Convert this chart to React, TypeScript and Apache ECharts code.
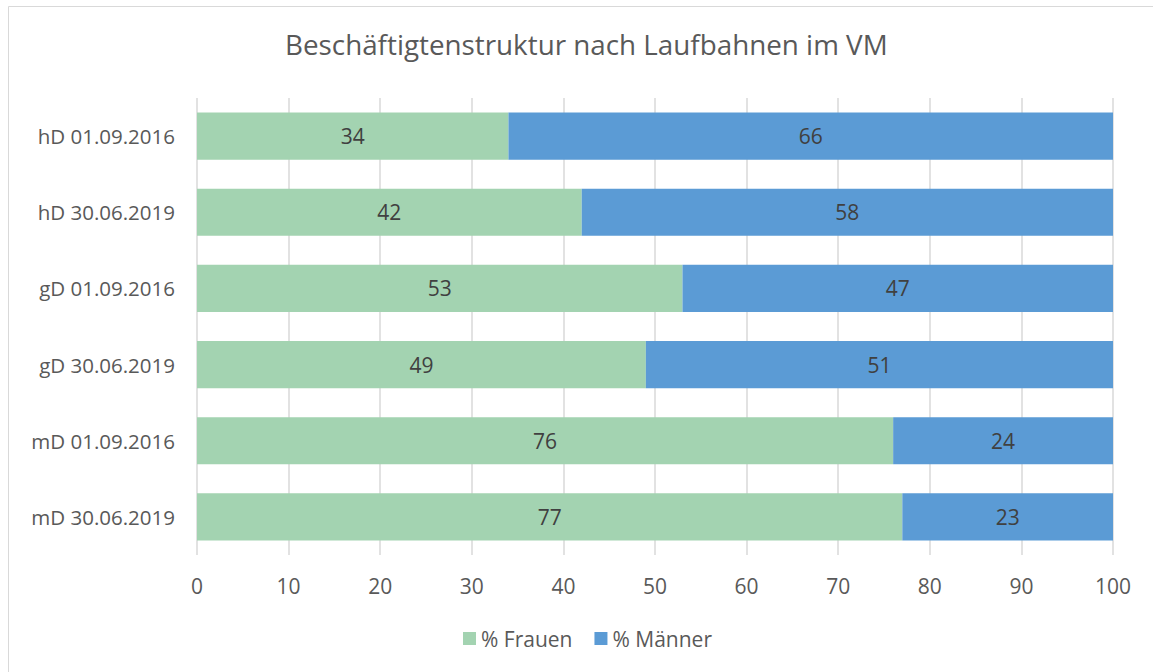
import React, { useEffect, useRef } from "react";
import * as echarts from "echarts";

const categories = [
  "hD 01.09.2016",
  "hD 30.06.2019",
  "gD 01.09.2016",
  "gD 30.06.2019",
  "mD 01.09.2016",
  "mD 30.06.2019",
];
const frauen = [34, 42, 53, 49, 76, 77];
const maenner = [66, 58, 47, 51, 24, 23];
const seriesNames = ["% Frauen", "% Männer"];
const xTicks = { min: 0, max: 100, interval: 10 };

const FONT = "'Open Sans', 'Noto Sans', sans-serif";

export default function App() {
  const ref = useRef<HTMLDivElement>(null);
  useEffect(() => {
    if (!ref.current) return;
    const chart = echarts.init(ref.current, null, { renderer: "svg" });
    chart.setOption({
      animation: false,
      backgroundColor: "#ffffff",
      textStyle: { fontFamily: FONT },
      title: {
        text: "Beschäftigtenstruktur nach Laufbahnen im VM",
        left: 280,
        top: 25,
        textStyle: { fontSize: 27.8, fontWeight: "normal", color: "#595959", fontFamily: FONT },
      },
      legend: {
        bottom: 18,
        left: 458,
        itemWidth: 13,
        itemHeight: 13,
        itemGap: 22,
        icon: "rect",
        textStyle: { fontSize: 21, color: "#595959", fontFamily: FONT },
        data: seriesNames,
      },
      grid: { left: 197, right: 40, top: 98, bottom: 117, containLabel: false },
      xAxis: {
        type: "value",
        min: xTicks.min,
        max: xTicks.max,
        interval: xTicks.interval,
        axisLine: { show: false },
        axisTick: { show: false },
        splitLine: { show: true, lineStyle: { color: "#d9d9d9", width: 1.5 } },
        axisLabel: { fontSize: 21, color: "#595959", margin: 20, fontFamily: FONT },
      },
      yAxis: {
        type: "category",
        data: categories,
        inverse: true,
        axisLine: { show: false },
        axisTick: { show: false },
        axisLabel: { fontSize: 20.5, color: "#595959", margin: 22, fontFamily: FONT },
      },
      series: [
        {
          name: seriesNames[0],
          type: "bar",
          stack: "total",
          data: frauen,
          barWidth: "62%",
          itemStyle: { color: "#a3d3b1" },
          label: { show: true, position: "inside", fontSize: 21, color: "#404040", fontFamily: FONT },
        },
        {
          name: seriesNames[1],
          type: "bar",
          stack: "total",
          data: maenner,
          barWidth: "62%",
          itemStyle: { color: "#5b9bd5" },
          label: { show: true, position: "inside", fontSize: 21, color: "#404040", fontFamily: FONT },
        },
      ],
      graphic: [
        {
          type: "rect",
          shape: { x: 8.5, y: 6.5, width: 1160, height: 680 },
          style: { fill: "none", stroke: "#d9d9d9", lineWidth: 1 },
          silent: true,
        },
      ],
    });
    return () => chart.dispose();
  }, []);
  return (
    <div
      ref={ref}
      style={{ position: "absolute", left: 0, top: 0, width: 1153, height: 672 }}
    />
  );
}
